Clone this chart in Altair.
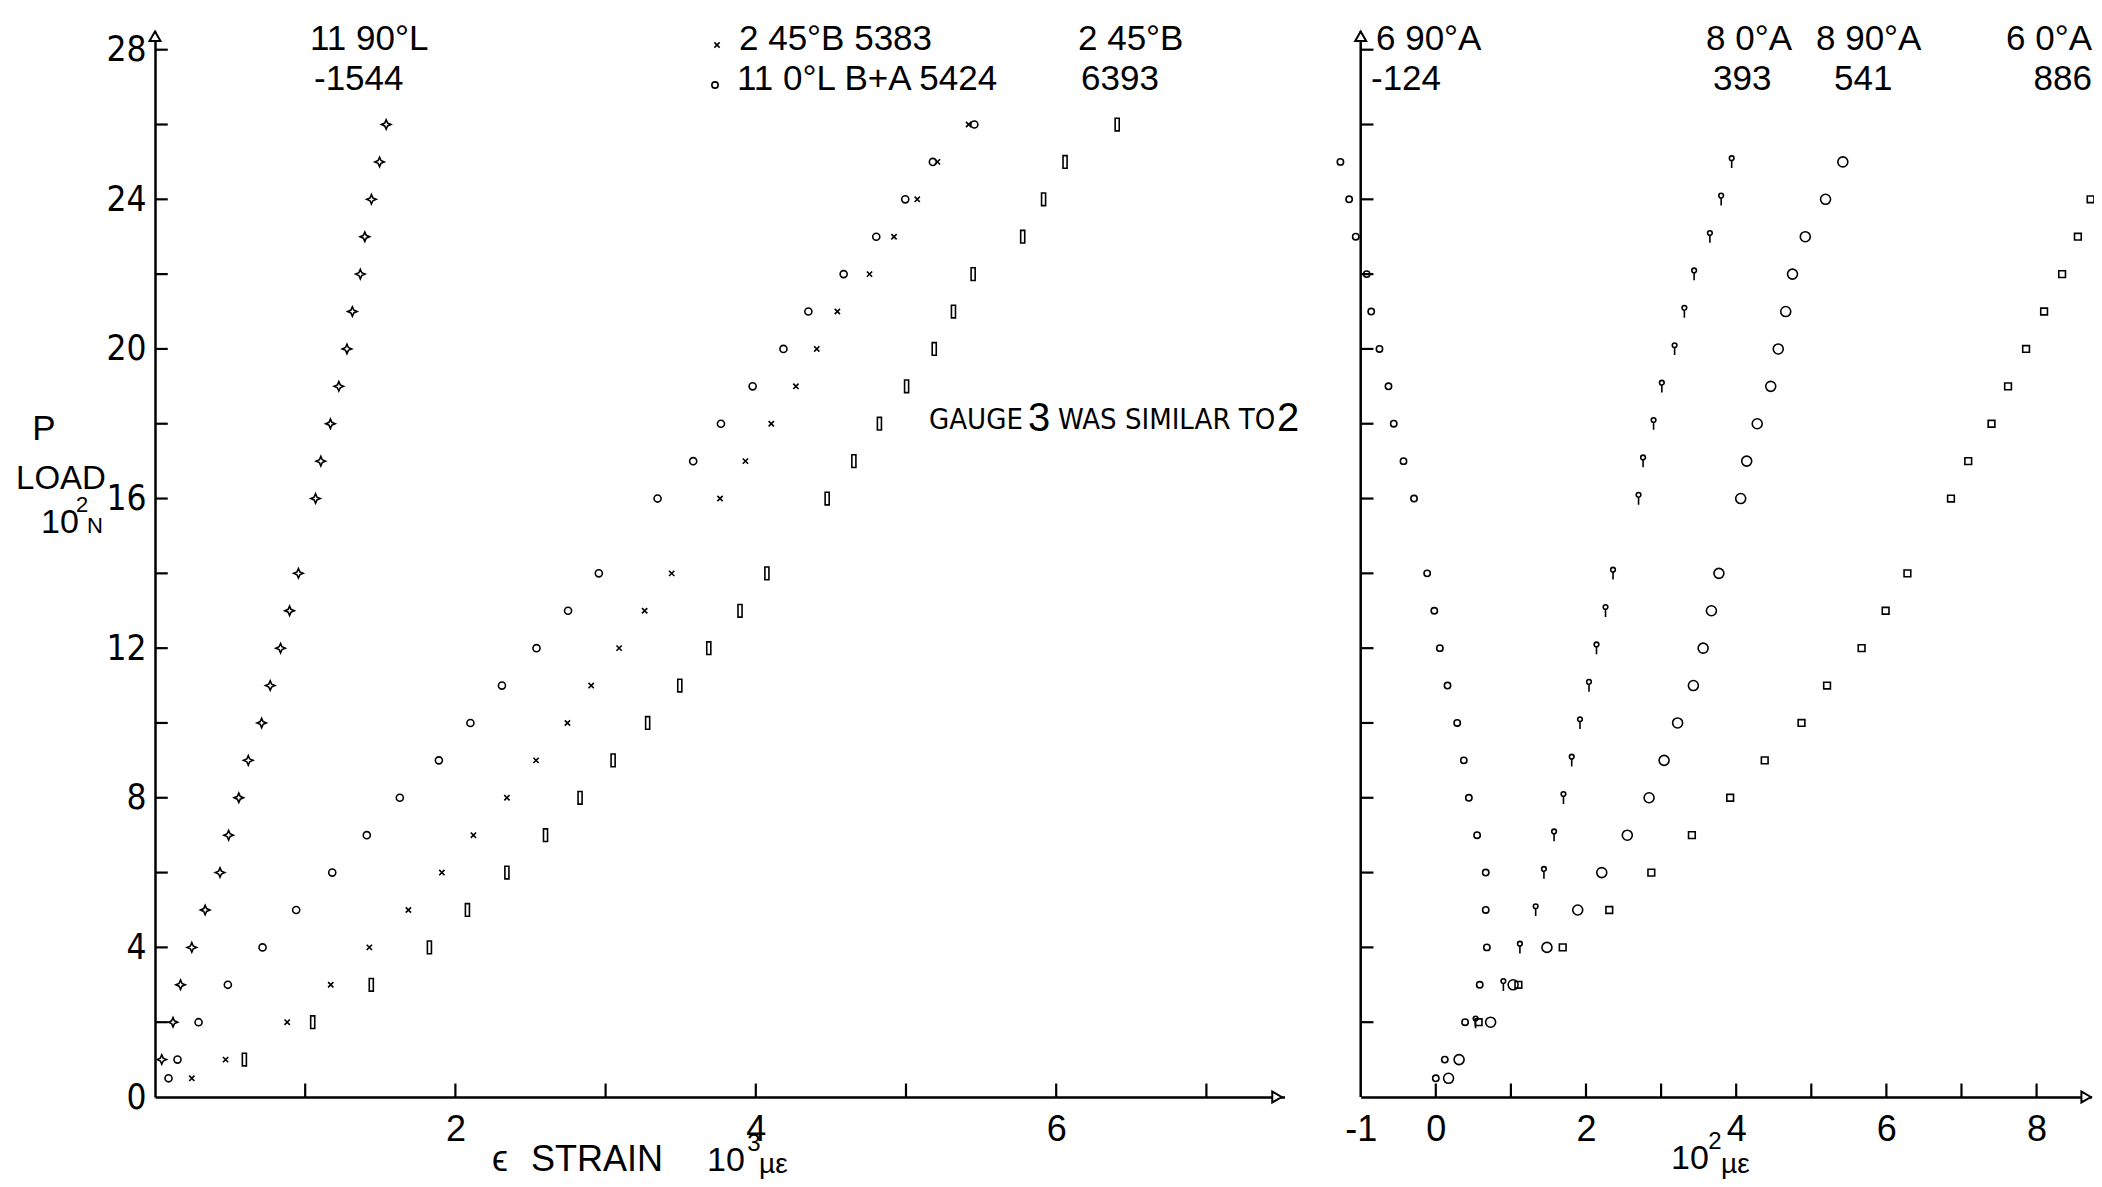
import altair as alt
import pandas as pd

FONT = "Liberation Sans, Arial, sans-serif"
NARROW = ("Liberation Sans Narrow, Arial Narrow, DejaVu Sans Condensed, Noto Sans Condensed, "
          "Roboto Condensed, Liberation Sans, sans-serif")

# ---------------- data ----------------
# load P in 10^2 N
LOADS_A = [1, 2, 3, 4, 5, 6, 7, 8, 9, 10, 11, 12, 13, 14, 16, 17, 18, 19, 20, 21, 22, 23, 24, 25, 26]
LOADS_B = [0.5] + LOADS_A

# left panel: strain in 10^3 micro-strain
L_11_90L = [0.045, 0.12, 0.17, 0.245, 0.334, 0.433, 0.49, 0.558, 0.621, 0.71, 0.767, 0.836, 0.896,
            0.955, 1.069, 1.104, 1.168, 1.224, 1.278, 1.314, 1.367, 1.397, 1.441, 1.495, 1.539]
L_2_45B_5383 = [0.245, 0.47, 0.88, 1.17, 1.427, 1.687, 1.91, 2.12, 2.343, 2.537, 2.746, 2.904, 3.09,
                3.26, 3.44, 3.762, 3.931, 4.103, 4.267, 4.406, 4.543, 4.757, 4.92, 5.075, 5.209, 5.417]
L_11_0L = [0.09, 0.15, 0.29, 0.485, 0.716, 0.94, 1.18, 1.41, 1.63, 1.89, 2.10, 2.31, 2.54, 2.75,
           2.955, 3.346, 3.583, 3.768, 3.979, 4.184, 4.35, 4.585, 4.802, 4.995, 5.179, 5.455]
L_2_45B_6393 = [0.595, 1.05, 1.44, 1.827, 2.08, 2.343, 2.60, 2.83, 3.05, 3.28, 3.494, 3.687, 3.895,
                4.074, 4.475, 4.653, 4.823, 5.004, 5.188, 5.316, 5.447, 5.777, 5.916, 6.059, 6.406]

# right panel: strain in 10^2 micro-strain
R_LOADS_O = [0.5, 1, 2, 3, 4, 5, 6, 7, 8, 9, 10, 11, 12, 13, 14, 16, 17, 18, 19, 20, 21, 22, 23, 24, 25]
R_6_90A = [0.0, 0.12, 0.39, 0.585, 0.68, 0.665, 0.665, 0.55, 0.44, 0.373, 0.285, 0.156, 0.054, -0.02,
           -0.115, -0.29, -0.43, -0.56, -0.63, -0.75, -0.86, -0.92, -1.066, -1.154, -1.27]
R_8_90A = [0.17, 0.31, 0.73, 1.03, 1.48, 1.89, 2.21, 2.55, 2.84, 3.04, 3.22, 3.43, 3.56, 3.67, 3.77,
           4.06, 4.14, 4.28, 4.46, 4.56, 4.66, 4.75, 4.92, 5.19, 5.42]
R_LOADS_ARROW = [2, 3, 4, 5, 6, 7, 8, 9, 10, 11, 12, 13, 14, 16, 17, 18, 19, 20, 21, 22, 23, 24, 25]
R_8_0A = [0.53, 0.90, 1.12, 1.33, 1.44, 1.575, 1.70, 1.81, 1.92, 2.04, 2.14, 2.26, 2.36, 2.70, 2.76,
          2.90, 3.01, 3.18, 3.31, 3.44, 3.65, 3.80, 3.94]
R_LOADS_SQ = [2, 3, 4, 5, 6, 7, 8, 9, 10, 11, 12, 13, 14, 16, 17, 18, 19, 20, 21, 22, 23, 24]
R_6_0A = [0.57, 1.10, 1.69, 2.31, 2.87, 3.41, 3.92, 4.38, 4.87, 5.21, 5.67, 5.99, 6.28, 6.86, 7.09,
          7.40, 7.62, 7.86, 8.10, 8.34, 8.55, 8.72]

Y_LABELS = [0, 4, 8, 12, 16, 20, 24, 28]
Y_TICKS_LEFT = [2, 4, 6, 8, 10, 12, 14, 16, 18, 20, 22, 24, 26, 28]
Y_TICKS_RIGHT = [2, 4, 6, 8, 10, 12, 14, 16, 18, 20, 22, 24, 26, 28]
LEFT_X_LABELS = [2, 4, 6]
LEFT_X_TICKS = [1, 2, 3, 4, 5, 6, 7]
RIGHT_X_LABELS = [-1, 0, 2, 4, 6, 8]
RIGHT_X_TICKS = [0, 1, 2, 3, 4, 5, 6, 7, 8]


def frame(loads, vals):
    return pd.DataFrame({"load": loads, "strain": vals})


# ---------------- scales / axes ----------------
W, H = 1937, 1066
LX = alt.Scale(domain=[0, 7.52], range=[0, 1129.5], nice=False, zero=False)
RX = alt.Scale(domain=[-1, 8.73], range=[1205.7, 1936.4], nice=False, zero=False)
YS = alt.Scale(domain=[0, 28.5], nice=False, zero=False)

AXC = dict(ticks=False, tickSize=0, grid=False, domainColor="black", domainWidth=2.5,
           labelColor="black", title=None, labelOverlap=False, labelFlush=False)
LXAX = alt.Axis(orient="bottom", values=LEFT_X_LABELS, labelFont=FONT, labelFontSize=36,
                labelPadding=15, **AXC)
RXAX = alt.Axis(orient="bottom", values=RIGHT_X_LABELS, labelFont=FONT, labelFontSize=36,
                labelPadding=15, labelExpr="replace(datum.label, '\u2212', '-')", **AXC)
YAX = alt.Axis(orient="left", values=Y_LABELS, labelFont=NARROW, labelFontSize=35,
               labelPadding=9, **AXC)


def lx(f="strain"):
    return alt.X(f"{f}:Q", scale=LX, axis=LXAX)


def rx(f="strain"):
    return alt.X(f"{f}:Q", scale=RX, axis=RXAX)


def yy(f="load"):
    return alt.Y(f"{f}:Q", scale=YS, axis=YAX)


STAR = "M0,-1 L0.3,-0.3 L1,0 L0.3,0.3 L0,1 L-0.3,0.3 L-1,0 L-0.3,-0.3 Z"
XMARK = "M-1,-1 L1,1 M-1,1 L1,-1"
TALLRECT = "M-0.32,-1 L0.32,-1 L0.32,1 L-0.32,1 Z"
LOLLI = "M0,1 L0,-0.25 M-0.38,-0.6 A0.38,0.38 0 1,1 0.38,-0.6 A0.38,0.38 0 1,1 -0.38,-0.6"


def pts(df, xf, shape, size, sw=1.6):
    return alt.Chart(df).mark_point(shape=shape, size=size, filled=False, color="black",
                                    strokeWidth=sw, opacity=1).encode(x=xf(), y=yy())


def arrow(df, xf, shape):
    return alt.Chart(df).mark_point(
        shape=shape, size=120, filled=True, fill="white", stroke="black",
        strokeWidth=2, opacity=1, fillOpacity=1, strokeOpacity=1).encode(x=xf(), y=yy())


# ---------------- left panel ----------------
left_layers = [
    pts(frame(LOADS_A, L_11_90L), lx, STAR, 90),
    pts(frame(LOADS_B, L_2_45B_5383), lx, XMARK, 28),
    pts(frame(LOADS_B, L_11_0L), lx, "circle", 50),
    pts(frame(LOADS_A, L_2_45B_6393), lx, TALLRECT, 160),
    alt.Chart(pd.DataFrame({"load": Y_TICKS_LEFT, "a": 0.0, "b": 0.085})).mark_rule(
        color="black", strokeWidth=2.2).encode(x=lx("a"), x2="b:Q", y=yy()),
    alt.Chart(pd.DataFrame({"strain": LEFT_X_TICKS, "a": 0.0, "b": 0.36})).mark_rule(
        color="black", strokeWidth=2.2).encode(x=lx(), y=yy("a"), y2="b:Q"),
    arrow(pd.DataFrame({"strain": [0.0], "load": [28.36]}), lx, "triangle-up"),
    arrow(pd.DataFrame({"strain": [7.47], "load": [0.0]}), lx, "triangle-right"),
]

# ---------------- right panel ----------------
right_layers = [
    alt.Chart(pd.DataFrame({"strain": [-1.0], "a": [0.0], "b": [28.5]})).mark_rule(
        color="black", strokeWidth=2.5).encode(x=rx(), y=yy("a"), y2="b:Q"),
    pts(frame(R_LOADS_O, R_6_90A), rx, "circle", 40),
    pts(frame(R_LOADS_ARROW, R_8_0A), rx, LOLLI, 150),
    pts(frame(R_LOADS_O, R_8_90A), rx, "circle", 100),
    pts(frame(R_LOADS_SQ, R_6_0A), rx, "square", 45),
    alt.Chart(pd.DataFrame({"load": Y_TICKS_RIGHT, "a": -1.0, "b": -0.83})).mark_rule(
        color="black", strokeWidth=2.2).encode(x=rx("a"), x2="b:Q", y=yy()),
    alt.Chart(pd.DataFrame({"strain": RIGHT_X_TICKS, "a": 0.0, "b": 0.36})).mark_rule(
        color="black", strokeWidth=2.2).encode(x=rx(), y=yy("a"), y2="b:Q"),
    arrow(pd.DataFrame({"strain": [-1.0], "load": [28.36]}), rx, "triangle-up"),
    arrow(pd.DataFrame({"strain": [8.66], "load": [0.0]}), rx, "triangle-right"),
]


# ---------------- annotations (pixel offsets from plot origin) ----------------
def label(s, px, py, size=35, font=FONT, align="left", baseline="alphabetic"):
    return alt.Chart(pd.DataFrame({"t": [s]})).mark_text(
        font=font, fontSize=size, color="black", align=align, baseline=baseline
    ).encode(x=alt.value(px), y=alt.value(py), text="t:N")


def marker(shape, size, px, py):
    return alt.Chart(pd.DataFrame({"t": [0]})).mark_point(
        shape=shape, size=size, filled=False, color="black", strokeWidth=1.6, opacity=1
    ).encode(x=alt.value(px), y=alt.value(py))


ann = [
    label("11 90°L", 155, 18.5), label("-1544", 159, 59),
    marker(XMARK, 28, 562, 14), label("2 45°B 5383", 584, 18.5),
    marker("circle", 40, 560, 54), label("11 0°L B+A 5424", 582, 59),
    label("2 45°B", 923, 18.5), label("6393", 926, 59),
    label("6 90°A", 1221, 18.5), label("-124", 1216, 59),
    label("8 0°A", 1551, 18.5), label("393", 1558, 59),
    label("8 90°A", 1661, 18.5), label("541", 1679, 59),
    label("6 0°A", 1937, 18.5, align="right"), label("886", 1937, 59, align="right"),
    label("GAUGE", 774, 398, size=29, font=NARROW),
    label("3", 873, 400, size=40),
    label("WAS SIMILAR TO", 903, 398, size=29, font=NARROW),
    label("2", 1122, 400, size=40),
    label("P", -111, 409, align="center"),
    label("LOAD", -94, 458, size=33, align="center"),
    label("10", -95, 502, size=34, align="center"),
    label("2", -73, 474, size=22, align="center", baseline="middle"),
    label("N", -60, 502, size=22, align="center"),
    label("ϵ", 337, 1140, size=36),
    label("STRAIN", 376, 1140, size=36),
    label("10", 552, 1140, size=34),
    label("3", 599, 1113, size=24, align="center", baseline="middle"),
    label("µε", 604, 1142, size=28),
    label("10", 1516, 1138, size=34),
    label("2", 1560, 1111, size=24, align="center", baseline="middle"),
    label("µε", 1566, 1142, size=28),
]

chart = alt.layer(
    alt.layer(*left_layers),
    alt.layer(*right_layers),
    *ann,
).resolve_scale(x="independent").resolve_axis(x="independent").properties(
    width=W, height=H,
    autosize=alt.AutoSizeParams(type="none"),
    padding={"left": 147, "top": 23, "right": 2, "bottom": 82},
    background="white",
).configure_view(stroke=None)

chart.save("out.html", embed_options={"renderer": "svg", "actions": False})
